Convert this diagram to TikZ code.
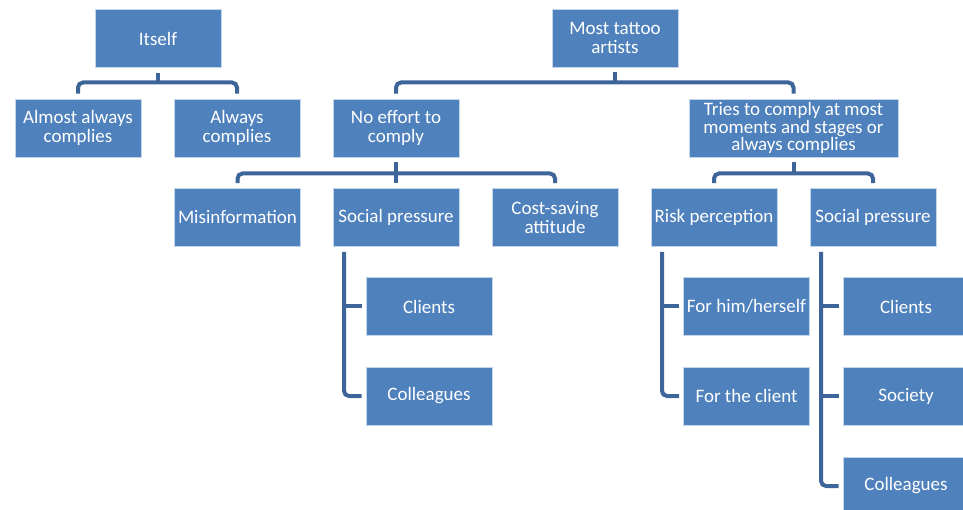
\documentclass[tikz,border=0pt]{standalone}
\usepackage{fontspec}
\setmainfont{Carlito}
\usetikzlibrary{calc}
\definecolor{boxblue}{HTML}{4F81BD}
\definecolor{boxedge}{HTML}{C5D5EA}
\definecolor{linkblue}{HTML}{3D6599}
\tikzset{
  box/.style={rectangle, fill=boxblue, draw=boxedge, line width=0.8pt,
    minimum width=126pt, minimum height=58pt, inner sep=2pt, text=white,
    align=center, font=\fontsize{19}{19.5}\selectfont},
  conn/.style={draw=linkblue, line width=4pt, rounded corners=5pt},
  gap/.style={shorten <=5pt, shorten >=5pt}
}
\begin{document}
\begin{tikzpicture}[x=1pt,y=-1pt]
\clip (0,0) rectangle (963,510);
\useasboundingbox (0,0) rectangle (963,510);
% level 0
\node[box] (itself) at (158,38.5) {Itself};
\node[box] (most) at (615,38) {Most tattoo\\artists};
% level 1
\node[box] (almost) at (78,128) {Almost always\\complies};
\node[box] (always) at (237,128) {Always\\complies};
\node[box] (noeff) at (396,128) {No effort to\\comply};
\node[box, minimum width=209pt, font=\fontsize{19}{17.4}\selectfont] (tries) at (793.5,128) {Tries to comply at most\\moments and stages or\\always complies};
% level 2
\node[box] (misinfo) at (237.5,217.5) {Misinformation};
\node[box] (sp1) at (396,217.5) {Social pressure};
\node[box] (cost) at (555,217.5) {Cost-saving\\attitude};
\node[box] (risk) at (714,217.5) {Risk perception};
\node[box] (sp2) at (873,217.5) {Social pressure};
% level 3
\node[box] (clients1) at (429,306.5) {Clients};
\node[box] (coll1) at (429,396) {Colleagues};
\node[box] (forhim) at (746.5,306.5) {For him/herself};
\node[box] (forcl) at (746.5,396) {For the client};
\node[box] (clients2) at (906,306.5) {Clients};
\node[box] (society) at (906,396) {Society};
\node[box] (coll2) at (906,486) {Colleagues};
% junctions
\coordinate (j1) at (158,82.5);
\coordinate (j2) at (615,82.5);
\coordinate (j3) at (396,173.5);
\coordinate (j4) at (793.5,173.5);
\coordinate (v1) at (344,247);
\coordinate (v2) at (662,247);
\coordinate (v3) at (821,247);
% connectors
\draw[conn, gap] (almost.north) |- (j1) -| (always.north);
\draw[conn, shorten <=5pt] (itself.south) -- (j1);
\draw[conn, gap] (noeff.north) |- (j2) -| (tries.north);
\draw[conn, shorten <=5pt] (most.south) -- (j2);
\draw[conn, gap] (misinfo.north) |- (j3) -| (cost.north);
\draw[conn, gap] (noeff.south) -- (sp1.north);
\draw[conn, gap] (risk.north) |- (j4) -| (sp2.north);
\draw[conn, shorten <=5pt] (tries.south) -- (j4);
\draw[conn, shorten <=5pt, shorten >=4pt] (v1) |- (coll1.west);
\draw[conn, shorten >=4pt] (v1 |- clients1.west) -- (clients1.west);
\draw[conn, shorten <=5pt, shorten >=4pt] (v2) |- (forcl.west);
\draw[conn, shorten >=4pt] (v2 |- forhim.west) -- (forhim.west);
\draw[conn, shorten <=5pt, shorten >=4pt] (v3) |- (coll2.west);
\draw[conn, shorten >=4pt] (v3 |- clients2.west) -- (clients2.west);
\draw[conn, shorten >=4pt] (v3 |- society.west) -- (society.west);
\end{tikzpicture}
\end{document}
